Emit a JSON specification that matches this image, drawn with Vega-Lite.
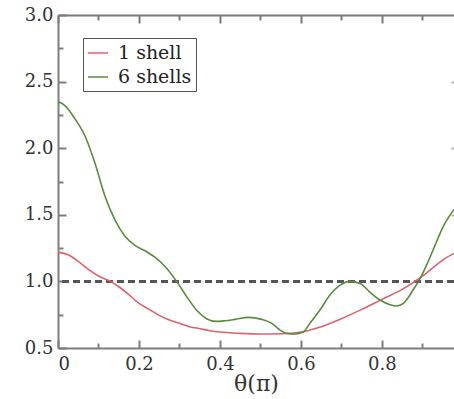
{
  "$schema": "https://vega.github.io/schema/vega-lite/v6.json",
  "autosize": {"type": "none"},
  "padding": {"left": 58, "top": 15, "right": 0, "bottom": 51},
  "width": 396,
  "height": 333,
  "background": "white",
  "config": {
    "view": {"stroke": null},
    "font": "DejaVu Serif",
    "axis": {
      "domainWidth": 2,
      "tickWidth": 2,
      "labelFont": "DejaVu Serif", "labelFontSize": 18, "labelColor": "#333",
      "titleFont": "DejaVu Serif", "titleFontSize": 22, "titleColor": "#333", "titleFontWeight": "normal",
      "grid": false
    },
    "legend": {"labelFont": "DejaVu Serif"}
  },
  "data": {"values": [
    {"t": 0.0, "v": 1.22, "s": "1 shell"},
    {"t": 0.025, "v": 1.2, "s": "1 shell"},
    {"t": 0.05, "v": 1.15, "s": "1 shell"},
    {"t": 0.075, "v": 1.09, "s": "1 shell"},
    {"t": 0.1, "v": 1.04, "s": "1 shell"},
    {"t": 0.13, "v": 1.0, "s": "1 shell"},
    {"t": 0.15, "v": 0.96, "s": "1 shell"},
    {"t": 0.175, "v": 0.9, "s": "1 shell"},
    {"t": 0.2, "v": 0.835, "s": "1 shell"},
    {"t": 0.225, "v": 0.79, "s": "1 shell"},
    {"t": 0.25, "v": 0.745, "s": "1 shell"},
    {"t": 0.275, "v": 0.71, "s": "1 shell"},
    {"t": 0.3, "v": 0.685, "s": "1 shell"},
    {"t": 0.325, "v": 0.66, "s": "1 shell"},
    {"t": 0.35, "v": 0.645, "s": "1 shell"},
    {"t": 0.375, "v": 0.63, "s": "1 shell"},
    {"t": 0.4, "v": 0.62, "s": "1 shell"},
    {"t": 0.45, "v": 0.61, "s": "1 shell"},
    {"t": 0.5, "v": 0.605, "s": "1 shell"},
    {"t": 0.55, "v": 0.607, "s": "1 shell"},
    {"t": 0.6, "v": 0.62, "s": "1 shell"},
    {"t": 0.65, "v": 0.66, "s": "1 shell"},
    {"t": 0.7, "v": 0.72, "s": "1 shell"},
    {"t": 0.75, "v": 0.79, "s": "1 shell"},
    {"t": 0.8, "v": 0.865, "s": "1 shell"},
    {"t": 0.85, "v": 0.94, "s": "1 shell"},
    {"t": 0.9, "v": 1.04, "s": "1 shell"},
    {"t": 0.925, "v": 1.1, "s": "1 shell"},
    {"t": 0.95, "v": 1.16, "s": "1 shell"},
    {"t": 0.978, "v": 1.21, "s": "1 shell"},
    {"t": 0.0, "v": 2.35, "s": "6 shells"},
    {"t": 0.017, "v": 2.32, "s": "6 shells"},
    {"t": 0.042, "v": 2.22, "s": "6 shells"},
    {"t": 0.067, "v": 2.09, "s": "6 shells"},
    {"t": 0.091, "v": 1.89, "s": "6 shells"},
    {"t": 0.116, "v": 1.64, "s": "6 shells"},
    {"t": 0.141, "v": 1.46, "s": "6 shells"},
    {"t": 0.165, "v": 1.34, "s": "6 shells"},
    {"t": 0.19, "v": 1.27, "s": "6 shells"},
    {"t": 0.215, "v": 1.23, "s": "6 shells"},
    {"t": 0.24, "v": 1.18, "s": "6 shells"},
    {"t": 0.265, "v": 1.11, "s": "6 shells"},
    {"t": 0.293, "v": 1.0, "s": "6 shells"},
    {"t": 0.318, "v": 0.885, "s": "6 shells"},
    {"t": 0.342, "v": 0.785, "s": "6 shells"},
    {"t": 0.367, "v": 0.72, "s": "6 shells"},
    {"t": 0.39, "v": 0.7, "s": "6 shells"},
    {"t": 0.412, "v": 0.705, "s": "6 shells"},
    {"t": 0.437, "v": 0.715, "s": "6 shells"},
    {"t": 0.47, "v": 0.73, "s": "6 shells"},
    {"t": 0.503, "v": 0.715, "s": "6 shells"},
    {"t": 0.528, "v": 0.685, "s": "6 shells"},
    {"t": 0.548, "v": 0.635, "s": "6 shells"},
    {"t": 0.565, "v": 0.61, "s": "6 shells"},
    {"t": 0.585, "v": 0.605, "s": "6 shells"},
    {"t": 0.606, "v": 0.62, "s": "6 shells"},
    {"t": 0.622, "v": 0.685, "s": "6 shells"},
    {"t": 0.647, "v": 0.785, "s": "6 shells"},
    {"t": 0.672, "v": 0.9, "s": "6 shells"},
    {"t": 0.696, "v": 0.97, "s": "6 shells"},
    {"t": 0.721, "v": 1.0, "s": "6 shells"},
    {"t": 0.746, "v": 0.985, "s": "6 shells"},
    {"t": 0.77, "v": 0.92, "s": "6 shells"},
    {"t": 0.795, "v": 0.86, "s": "6 shells"},
    {"t": 0.82, "v": 0.825, "s": "6 shells"},
    {"t": 0.836, "v": 0.815, "s": "6 shells"},
    {"t": 0.853, "v": 0.835, "s": "6 shells"},
    {"t": 0.877, "v": 0.935, "s": "6 shells"},
    {"t": 0.894, "v": 1.02, "s": "6 shells"},
    {"t": 0.91, "v": 1.12, "s": "6 shells"},
    {"t": 0.927, "v": 1.24, "s": "6 shells"},
    {"t": 0.951, "v": 1.41, "s": "6 shells"},
    {"t": 0.978, "v": 1.54, "s": "6 shells"}
  ]},
  "resolve": {"axis": {"x": "independent", "y": "independent"}},
  "layer": [
    {
      "mark": {"type": "rule", "color": "#555", "strokeDash": [7, 4], "strokeWidth": 1.5},
      "encoding": {"y": {"datum": 1, "type": "quantitative", "axis": null}}
    },
    {
      "mark": {"type": "line", "strokeWidth": 1.6, "interpolate": "monotone", "clip": true},
      "encoding": {
        "x": {"field": "t", "type": "quantitative", "scale": {"domain": [0, 0.978], "nice": false, "zero": false},
              "axis": {"orient": "bottom", "values": [0, 0.2, 0.4, 0.6, 0.8], "tickSize": -8, "tickColor": "#7b7b7b", "domainColor": "#7c7c7c", "labelPadding": 15,
                       "labelExpr": "datum.value == 0 ? '0' : format(datum.value, '.1f')",
                       "title": "θ(π)", "titlePadding": 0}},
        "y": {"field": "v", "type": "quantitative", "scale": {"domain": [0.5, 3.0], "nice": false, "zero": false},
              "axis": {"orient": "left", "values": [0.5, 1.0, 1.5, 2.0, 2.5, 3.0], "tickSize": -8, "tickColor": "#7d7d7d", "domainColor": "#7e7e7e", "labelPadding": 13,
                       "format": ".1f", "title": null}},
        "color": {"field": "s", "type": "nominal",
                  "scale": {"domain": ["1 shell", "6 shells"], "range": ["#e0606e", "#5a8c40"]},
                  "legend": {"orient": "none", "legendX": 25, "legendY": 23, "title": null,
                             "symbolType": "stroke", "symbolSize": 400, "symbolStrokeWidth": 1.5,
                             "labelFont": "DejaVu Serif", "labelFontSize": 19, "labelColor": "#222",
                             "labelOffset": 9, "rowPadding": 3, "padding": 4,
                             "strokeColor": "#555", "fillColor": "white"}}
      }
    },
    {
      "mark": {"type": "point", "opacity": 0},
      "encoding": {
        "x": {"field": "t", "type": "quantitative",
              "axis": {"orient": "bottom", "values": [0.1, 0.3, 0.5, 0.7, 0.9], "tickSize": -5, "tickColor": "#7f7f7f", "labels": false, "domain": false, "title": null}},
        "y": {"field": "v", "type": "quantitative",
              "axis": {"orient": "left", "values": [0.75, 1.25, 1.75, 2.25, 2.75], "tickSize": -5, "tickColor": "#808080", "labels": false, "domain": false, "title": null}}
      }
    },
    {
      "mark": {"type": "point", "opacity": 0},
      "encoding": {
        "x": {"field": "t", "type": "quantitative",
              "axis": {"orient": "top", "values": [0, 0.2, 0.4, 0.6, 0.8], "tickSize": -8, "tickColor": "#787878", "labels": false, "domain": true, "domainColor": "#797979", "title": null}},
        "y": {"field": "v", "type": "quantitative",
              "axis": {"orient": "right", "values": [1.0, 1.5, 2.0, 2.5], "tickSize": -3, "labels": false, "domain": false, "title": null, "tickColor": "#b0b0b0"}}
      }
    },
    {
      "mark": {"type": "point", "opacity": 0},
      "encoding": {
        "x": {"field": "t", "type": "quantitative",
              "axis": {"orient": "top", "values": [0.1, 0.3, 0.5, 0.7, 0.9], "tickSize": -5, "tickColor": "#7a7a7a", "labels": false, "domain": false, "title": null}},
        "y": {"field": "v", "type": "quantitative", "axis": null}
      }
    }
  ]
}
